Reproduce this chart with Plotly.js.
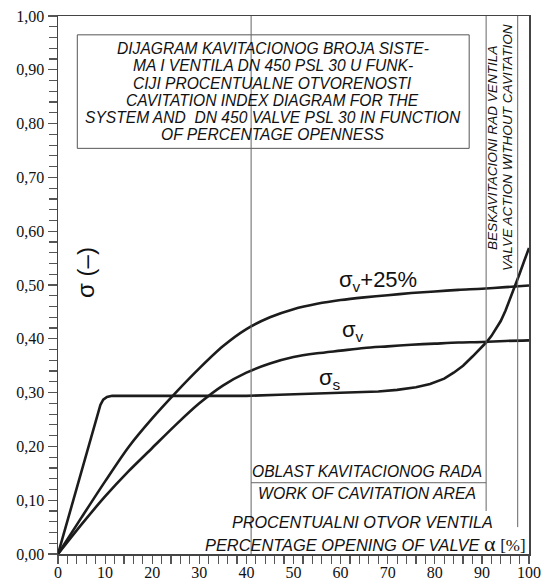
<!DOCTYPE html>
<html>
<head>
<meta charset="utf-8">
<script src="https://cdn.plot.ly/plotly-3.0.1.min.js"></script>
<style>
  html, body { margin: 0; padding: 0; background: #fff; }
  #chart { width: 552px; height: 584px; }
</style>
</head>
<body>
<div id="chart"></div>
<script>
// Percentage opening of the valve (alpha, %) and cavitation indices
const alphaS = [0, 9.0, 9.6, 10.4, 11.5, 13, 20, 30, 40, 47, 55, 62, 68, 72, 76, 79, 82, 84, 86, 88, 90, 91, 92, 93, 94, 95, 96, 97, 98, 99, 100];
const sigmaS = [0, 0.277, 0.287, 0.292, 0.294, 0.294, 0.294, 0.294, 0.294, 0.296, 0.298, 0.300, 0.302, 0.305, 0.310, 0.316, 0.326, 0.337, 0.350, 0.367, 0.384, 0.394, 0.405, 0.418, 0.433, 0.452, 0.474, 0.497, 0.521, 0.545, 0.569];

const alphaV = [0, 5, 10, 15, 20, 25, 30, 35, 40, 45, 50, 55, 60, 65, 70, 75, 80, 85, 90, 95, 100];
const sigmaV = [0, 0.055, 0.107, 0.154, 0.197, 0.240, 0.280, 0.313, 0.337, 0.354, 0.366, 0.373, 0.378, 0.383, 0.386, 0.389, 0.391, 0.393, 0.394, 0.396, 0.397];
const sigmaV25 = [0, 0.068, 0.135, 0.199, 0.252, 0.300, 0.345, 0.386, 0.418, 0.440, 0.455, 0.465, 0.472, 0.477, 0.481, 0.485, 0.488, 0.491, 0.493, 0.496, 0.499];

// Region boundaries on the alpha axis
const zoneStart = 41;     // start of cavitation work area
const zoneEnd = 90.9;     // end of cavitation work area
const noCavEnd = 97.6;    // right edge of the no-cavitation strip

const titleLines = [
  "DIJAGRAM KAVITACIONOG BROJA SISTE-",
  "MA I VENTILA DN 450 PSL 30 U FUNK-",
  "CIJI PROCENTUALNE OTVORENOSTI",
  "CAVITATION INDEX DIAGRAM FOR THE",
  "SYSTEM AND &nbsp;DN 450 VALVE PSL 30 IN FUNCTION",
  "OF PERCENTAGE OPENNESS"
];

const curveColor = '#1c1c1c';
const sans = 'Liberation Sans, Arial, sans-serif';
const serif = 'Liberation Serif, Times New Roman, serif';

const traces = [
  { x: alphaS, y: sigmaS, mode: 'lines', line: { color: curveColor, width: 2.6 }, name: 'σs' },
  { x: alphaV, y: sigmaV, mode: 'lines', line: { color: curveColor, width: 2.6, shape: 'spline', smoothing: 0.8 }, name: 'σv' },
  { x: alphaV, y: sigmaV25, mode: 'lines', line: { color: curveColor, width: 2.6, shape: 'spline', smoothing: 0.8 }, name: 'σv+25%' }
];

const italic = (size) => ({ family: sans, size: size, color: '#111', style: 'italic' });

const annotations = [];
const titleY = [0.9405, 0.908, 0.875, 0.843, 0.811, 0.780];
titleLines.forEach((t, i) => {
  annotations.push({ x: 45.6, y: titleY[i], xref: 'x', yref: 'y', text: t, showarrow: false,
    font: italic(15.6), xanchor: 'center', yanchor: 'middle' });
});

annotations.push(
  { x: 92.4, y: 0.755, xref: 'x', yref: 'y', text: 'BESKAVITACIONI RAD VENTILA', textangle: -90,
    showarrow: false, font: italic(13.6) },
  { x: 95.6, y: 0.755, xref: 'x', yref: 'y', text: 'VALVE ACTION WITHOUT CAVITATION', textangle: -90,
    showarrow: false, font: italic(13.6) },
  { x: 65.5, y: 0.153, xref: 'x', yref: 'y', text: 'OBLAST KAVITACIONOG RADA', showarrow: false, font: italic(15.6) },
  { x: 65.6, y: 0.113, xref: 'x', yref: 'y', text: 'WORK OF CAVITATION AREA', showarrow: false, font: italic(15.8) },
  { x: 64.6, y: 0.060, xref: 'x', yref: 'y', text: 'PROCENTUALNI OTVOR VENTILA', showarrow: false, font: italic(16.2) },
  { x: 99.8, y: 0.019, xref: 'x', yref: 'y', xanchor: 'right',
    text: "PERCENTAGE OPENING OF VALVE <span style=\"font-family:'Liberation Serif';font-style:normal;font-size:22px\">α</span> <span style=\"font-family:'Liberation Serif';font-style:normal;font-size:17px\">[%]</span>",
    showarrow: false, font: italic(16.4) },
  // curve labels
  { x: 68.0, y: 0.507, xref: 'x', yref: 'y', text: 'σ<sub>v</sub>+25%', showarrow: false,
    font: { family: sans, size: 22, color: '#111' } },
  { x: 62.6, y: 0.415, xref: 'x', yref: 'y', text: 'σ<sub>v</sub>', showarrow: false,
    font: { family: sans, size: 22, color: '#111' } },
  { x: 57.7, y: 0.325, xref: 'x', yref: 'y', text: 'σ<sub>s</sub>', showarrow: false,
    font: { family: sans, size: 22, color: '#111' } },
  // vertical axis title
  { x: 5.7, y: 0.524, xref: 'x', yref: 'y', text: 'σ (–)', textangle: -90, showarrow: false,
    font: { family: sans, size: 24, color: '#111' } }
);

const thin = { color: '#666', width: 1 };
const shapes = [
  { type: 'rect', xref: 'x', yref: 'y', x0: 4.1, x1: 87.3, y0: 0.754, y1: 0.965, line: { color: '#555', width: 1 } },
  { type: 'line', xref: 'x', yref: 'y', x0: zoneStart, x1: zoneStart, y0: 0, y1: 1, line: thin },
  { type: 'line', xref: 'x', yref: 'y', x0: zoneEnd, x1: zoneEnd, y0: 0.080, y1: 1, line: thin },
  { type: 'line', xref: 'x', yref: 'y', x0: noCavEnd, x1: noCavEnd, y0: 0.050, y1: 1, line: thin },
  { type: 'line', xref: 'x', yref: 'y', x0: zoneStart, x1: zoneEnd, y0: 0.1325, y1: 0.1325, line: thin }
];

const layout = {
  width: 552, height: 584,
  margin: { l: 58, r: 23, t: 16, b: 30 },
  paper_bgcolor: '#fff', plot_bgcolor: '#fff',
  showlegend: false,
  separators: ',.',
  xaxis: {
    range: [0, 100], dtick: 10, tick0: 0, showgrid: false, zeroline: false,
    showline: true, linecolor: '#444', linewidth: 1.5, mirror: true,
    ticks: 'outside', ticklen: 8, tickwidth: 1.2, tickcolor: '#555',
    minor: { dtick: 2, ticks: 'outside', ticklen: 8, tickwidth: 1.2, tickcolor: '#555', showgrid: false },
    ticklabelstandoff: -5,
    tickfont: { family: serif, size: 16, color: '#111' }
  },
  yaxis: {
    range: [0, 1], dtick: 0.1, tick0: 0, tickformat: '.2f', showgrid: false, zeroline: false,
    showline: true, linecolor: '#444', linewidth: 1.5, mirror: true,
    ticks: 'outside', ticklen: 9, tickwidth: 1.2, tickcolor: '#555',
    minor: { dtick: 0.02, ticks: 'outside', ticklen: 8, tickwidth: 1.2, tickcolor: '#555', showgrid: false },
    tickfont: { family: serif, size: 16, color: '#111' }
  },
  annotations: annotations,
  shapes: shapes
};

Plotly.newPlot('chart', traces, layout, { staticPlot: true, displayModeBar: false });
</script>
</body>
</html>
